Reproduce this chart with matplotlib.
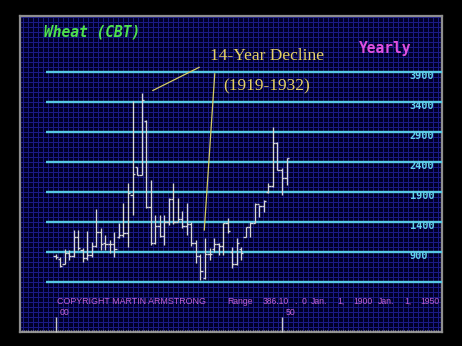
import matplotlib
matplotlib.use('Agg')
import matplotlib.pyplot as plt
import numpy as np

# ---------------- data ----------------
years = list(range(1900, 1952))
highs = [860, 810, 945, 933, 1267, 1267, 960, 1250, 1070, 1610,
         1295, 1180, 1100, 1240, 1380, 1710, 2045, 3410, 2320, 3550,
         3105, 2105, 1520, 1520, 1520, 1800, 2050, 1800, 1580, 1720,
         1400, 1100, 860, 1128, 962, 1128, 1045, 1378, 1462, 988,
         1128, 988, 1322, 1405, 1712, 1683, 1767, 2045, 2988, 2738,
         2295, 2462]
lows = [790, 645, 700, 767, 822, 933, 740, 770, 820, 990,
        933, 930, 880, 820, 1130, 1155, 988, 1520, 2180, 2188,
        1633, 1022, 1030, 1150, 1022, 1355, 1360, 1400, 1300, 1190,
        1000, 717, 440, 450, 767, 905, 850, 850, 1212, 628,
        683, 767, 1155, 1155, 1378, 1478, 1572, 1878, 1988, 2267,
        1850, 2017]
opens = [833, 790, 700, 880, 833, 1145, 940, 800, 850, 1000,
         1238, 1050, 1030, 1030, 1150, 1180, 1212, 1855, 2310, 2190,
         3080, 1645, 1050, 1330, 1160, 1400, 1783, 1400, 1450, 1330,
         1360, 1050, 830, 470, 870, 950, 1033, 1000, 1378, 900,
         700, 950, 1155, 1322, 1390, 1700, 1660, 1900, 2000, 2712,
         2267, 2128]
closes = [810, 670, 880, 833, 1145, 960, 800, 850, 1000, 1240,
          1030, 1030, 1030, 950, 1180, 1212, 1880, 2200, 2190, 3440,
          1645, 1050, 1330, 1160, 1400, 1783, 1400, 1450, 1330, 1360,
          1050, 830, 590, 870, 867, 1033, 1000, 1378, 1250, 700,
          1055, 888, 1322, 1390, 1700, 1660, 1750, 2000, 2712, 2267,
          2128, 2462]
levels = [400, 900, 1400, 1900, 2400, 2900, 3400, 3900]
level_labels = ['', '900', '1400', '1900', '2400', '2900', '3400', '3900']
axis_years = [1900, 1950]
axis_labels = ['00', '50']
title = 'Wheat (CBT)'
period = 'Yearly'
note1 = '14-Year Decline'
note2 = '(1919-1932)'
copyright_txt = 'COPYRIGHT MARTIN ARMSTRONG'
range_parts = ['Range', '386.10', '.', '0', 'Jan.', '1,', '1900', 'Jan.', '1,', '1950']

# ---------------- layout ----------------
W, H = 462, 346
L, R, T, B = 19.5, 442.0, 15.5, 332.0
fig = plt.figure(figsize=(W / 100, H / 100), dpi=100, facecolor='black')
pos = [L / W, 1 - B / H, (R - L) / W, (B - T) / H]

bg = fig.add_axes(pos)
bg.set_xlim(0, R - L)
bg.set_ylim(B - T, 0)
bg.set_facecolor('#000028')
for gx in np.arange(3, R - L, 5.0):
    bg.axvline(gx, color='#1a1a86', lw=0.75, zorder=0)
for gy in np.arange((282 - T) % 5.0, B - T, 5.0):
    bg.axhline(gy, color='#1a1a86', lw=0.75, zorder=0)
bg.set_xticks([]); bg.set_yticks([])
for s in bg.spines.values():
    s.set_color('#8e8e8e'); s.set_linewidth(1.6)

ax = fig.add_axes(pos, facecolor='none')
px_per_year = 4.53
x0 = 1900 - (55.5 - L) / px_per_year
x1 = 1900 + (R - 55.5) / px_per_year
ax.set_xlim(x0, x1)
y_per_px = 1 / 0.06
ax.set_ylim(400 - (B - 282) * y_per_px, 400 + (282 - T) * y_per_px)
for s in ax.spines.values():
    s.set_visible(False)
ax.set_yticks([])
ax.set_xticks(axis_years)
ax.set_xticklabels([])
ax.set_xticks(np.arange(1892.5, 1985.5, 0.5), minor=True)
ax.tick_params(axis='x', which='major', direction='in', length=11, width=1.0, color='#c8c8c8')
ax.tick_params(axis='x', which='minor', direction='in', length=1.6, width=0.8, color='#9a9a9a')

# cyan level lines
ax.hlines(levels, 1897.9, x1, color='#56c8e4', lw=1.7, zorder=2)
for lv, lab in zip(levels, level_labels):
    if lab:
        ax.text(1978.2, lv - 70, lab, color='#64d2ea', fontsize=7.4,
                family='DejaVu Sans Mono', weight='bold', ha='left', va='center')

# OHLC bars
yrs = np.array(years, dtype=float)
w = 0.5
ax.vlines(yrs, lows, highs, color='#d6d6d6', lw=0.95, zorder=3)
ax.hlines(opens, yrs - w, yrs, color='#d6d6d6', lw=0.95, zorder=3)
ax.hlines(closes, yrs, yrs + w, color='#d6d6d6', lw=0.95, zorder=3)

# annotation lines
ax.annotate('', xy=(1920.9, 3570), xytext=(1932.3, 4000),
            arrowprops=dict(arrowstyle='-', color='#d4cc64', lw=0.9))
ax.annotate('', xy=(1932.8, 1217), xytext=(1935.2, 3920),
            arrowprops=dict(arrowstyle='-', color='#d4cc64', lw=0.9))

# axis year labels
for yv, lab in zip(axis_years, axis_labels):
    ax.text(yv + 0.9, -110, lab, color='#c464d4', fontsize=6.3,
            family='Liberation Sans', ha='left', va='center')

# texts in frame pixel coords
def tx(px, py, s, **kw):
    bg.text(px - L, py - T, s, **kw)

tx(44, 32, title, color='#4ee04e', fontsize=10.5, family='DejaVu Sans Mono',
   weight='bold', style='italic', ha='left', va='center')
tx(359, 48.5, period, color='#e050e0', fontsize=10.5, family='DejaVu Sans Mono',
   weight='bold', ha='left', va='center')
tx(210, 56, note1, color='#e4d064', fontsize=12.5, family='Liberation Serif',
   ha='left', va='center')
tx(223, 86, note2, color='#e4d064', fontsize=12.5, family='Liberation Serif',
   ha='left', va='center')
tx(57, 301, copyright_txt, color='#c060d0', fontsize=6.4, family='Liberation Sans',
   ha='left', va='center')
range_x = [227, 262.7, 294, 301.7, 311, 337.7, 353.7, 377.7, 404.3, 420.3]
for xx, s in zip(range_x, range_parts):
    tx(xx, 301, s, color='#c060d0', fontsize=6.2, family='Liberation Sans',
       ha='left', va='center')

fig.savefig('out.png', dpi=100, facecolor='black')
